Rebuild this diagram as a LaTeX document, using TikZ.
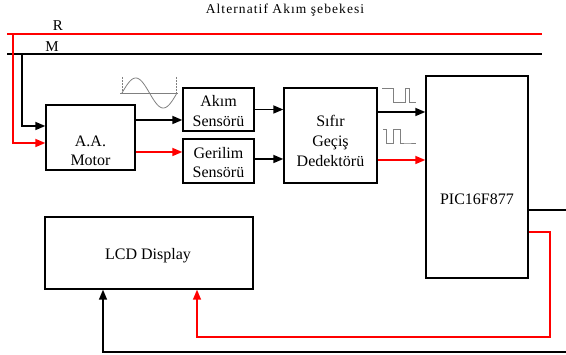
\documentclass[tikz,border=0pt]{standalone}
\usepackage{fontspec}
\setmainfont{Liberation Serif}
\usetikzlibrary{arrows.meta}
\begin{document}
\begin{tikzpicture}[x=1pt,y=-1pt,
  blk/.style={draw,line width=1.4pt,inner sep=0pt},
  wire/.style={line width=1.5pt},
  arr/.style={line width=1.7pt,-{Triangle[length=10pt,width=8pt]}},
  redarr/.style={arr,red},
  redwire/.style={wire,red},
  lbl/.style={anchor=base,inner sep=0pt,font=\fontsize{16}{19}\selectfont},
  sig/.style={draw=gray,line width=0.8pt}]
\useasboundingbox (0,0) rectangle (566,355);

% title and mains labels
\node[anchor=base,inner sep=0pt,font=\fontsize{13.5}{15}\addfontfeatures{LetterSpace=8}\selectfont] (title) at (285,14) {Alternatif Akım şebekesi};
\node[anchor=base,inner sep=0pt,font=\fontsize{15}{16}\selectfont] (lR) at (58,31) {R};
\node[anchor=base,inner sep=0pt,font=\fontsize{15}{16}\selectfont] (lM) at (52,52) {M};

% mains lines
\coordinate (rL) at (7,34);  \coordinate (rR) at (542,34);
\coordinate (mL) at (7,54);  \coordinate (mR) at (542,54);
\draw[redwire] (rL) -- (rR);
\draw[wire] (mL) -- (mR);

% boxes
\node[blk,minimum width=89pt,minimum height=65pt] (motor) at (90.5,137.5) {};
\node[blk,minimum width=71pt,minimum height=43pt] (akim) at (218.5,109.5) {};
\node[blk,minimum width=71pt,minimum height=44pt] (geri) at (218.5,161) {};
\node[blk,minimum width=93pt,minimum height=95pt] (sifir) at (330.5,135.5) {};
\node[blk,minimum width=102pt,minimum height=202pt] (pic) at (477,177) {};
\node[blk,minimum width=208pt,minimum height=72pt] (lcd) at (149,253) {};

% box texts
\node[lbl] (tmot1) at (90.5,147) {A.A.};
\node[lbl] (tmot2) at (90.5,166) {Motor};
\node[lbl] (tak1) at (218.5,107) {Akım};
\node[lbl] (tak2) at (218.5,127) {Sensörü};
\node[lbl] (tge1) at (218.5,159) {Gerilim};
\node[lbl] (tge2) at (218.5,178) {Sensörü};
\node[lbl] (tsf1) at (330.5,127) {Sıfır};
\node[lbl] (tsf2) at (330.5,147) {Geçiş};
\node[lbl] (tsf3) at (330.5,167) {Dedektörü};
\node[lbl] (tpic) at (477,205) {PIC16F877};
\node[lbl] (tlcd) at (148,260) {LCD Display};

% mains to motor
\coordinate (rtap) at (13,34);
\coordinate (mtap) at (22,54);
\draw[redarr] (rtap) |- ([yshift=-5.5pt]motor.west);
\draw[arr] (mtap) |- ([yshift=11.5pt]motor.west);

% motor to sensors
\coordinate (m1) at ([yshift=17.5pt]motor.east);
\coordinate (m2) at ([yshift=-14.5pt]motor.east);
\draw[arr] (m1) -- (akim.west |- m1);
\draw[redarr] (m2) -- (geri.west |- m2);

% sensors to zero-cross
\draw[arr] (akim.east) -- (sifir.west |- akim.east);
\coordinate (g1) at ([yshift=2pt]geri.east);
\draw[arr] (g1) -- (sifir.west |- g1);

% zero-cross to PIC
\coordinate (s1) at ([yshift=23.5pt]sifir.east);
\coordinate (s2) at ([yshift=-24.5pt]sifir.east);
\draw[arr] (s1) -- (pic.west |- s1);
\draw[redarr] (s2) -- (pic.west |- s2);

% PIC outputs to LCD
\coordinate (pR) at (566,210);
\draw[wire] (pic.east |- pR) -- (pR);
\coordinate (rc1) at (550,232);
\coordinate (rc2) at (550,337);
\draw[redwire,line width=1.4pt,-{Triangle[length=10pt,width=8pt]}] (pic.east |- rc1) -- (rc1) -- (rc2) -| ([xshift=48pt]lcd.south);
\coordinate (bR) at (566,352);
\draw[arr,line width=1.5pt] (bR) -| ([xshift=-46pt]lcd.south);

% sine wave
\draw[sig] (120,93) -- (178,93);
\draw[draw=gray,line width=0.5pt,densely dotted] (122,77) -- (122,93) (176,77) -- (176,93);
\draw[sig] plot[domain=0:360,samples=60,smooth] ({122+\x/360*55},{93-15*sin(\x)});

% square waves
\draw[sig] (382,88) -- (393,88) -- (393,102) -- (405,102) -- (405,88) -- (409,88) -- (409,102) -- (416,102);
\draw[sig] (383,129) -- (386,129) -- (386,143) -- (393,143) -- (393,129) -- (400,129) -- (400,143) -- (407,143) -- (416,143);
\end{tikzpicture}
\end{document}
